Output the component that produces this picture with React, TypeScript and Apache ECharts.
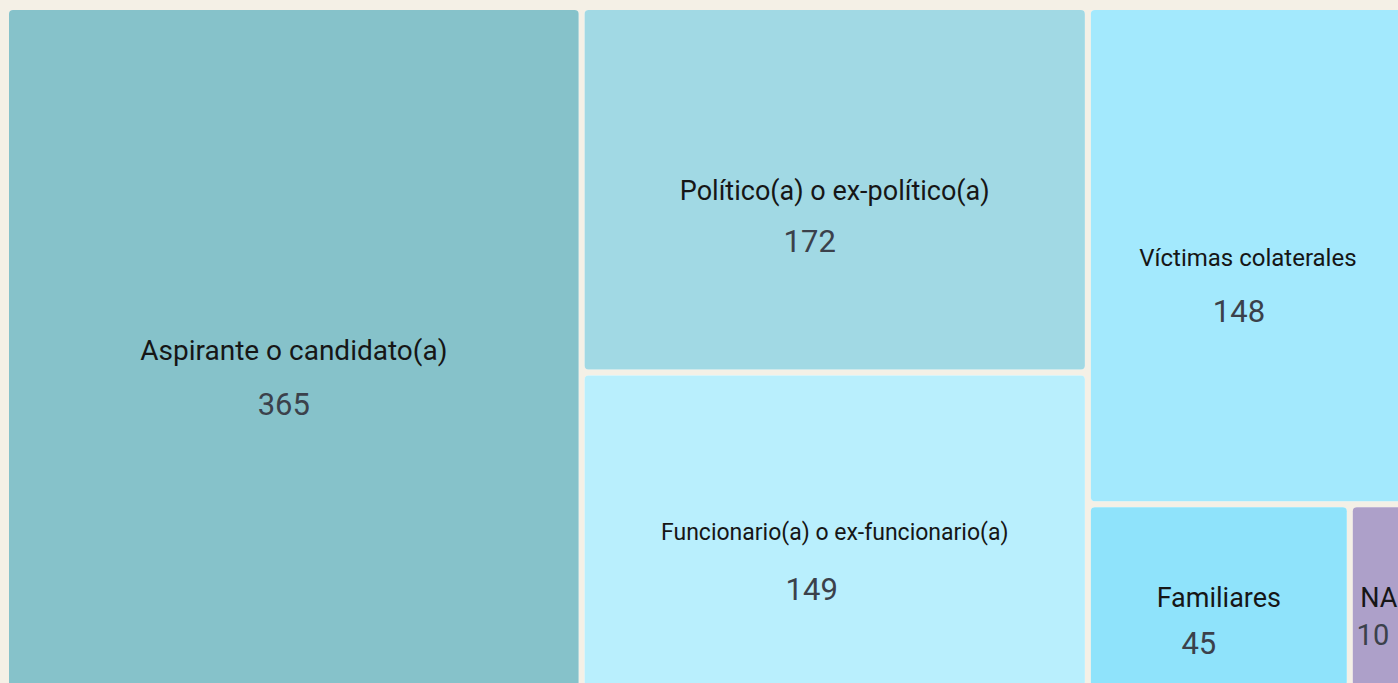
import React, { useEffect, useRef } from "react";
import * as echarts from "echarts";

const categories = [
  "Aspirante o candidato(a)",
  "Político(a) o ex-político(a)",
  "Funcionario(a) o ex-funcionario(a)",
  "Víctimas colaterales",
  "Familiares",
  "NA",
];
const values = [365, 172, 149, 148, 45, 10];
const colors = ["#86c2ca", "#a1d9e4", "#b9effd", "#a3e9fd", "#8fe3fb", "#ada0c9"];

// label styling per tile: name font size, value font size, spacing between lines, name vertical shift, value horizontal shift
const nameSizes = [28, 27, 23, 24, 27, 27];
const valueSizes = [31, 31, 31, 31, 31, 29];
const lineGaps = [54, 51, 57, 54, 46, 37];
const nameShiftY = [2, 1, 2, 2, 1, 1];
const valueShiftX = [-10, -25, -23, -9, -20, -6];

const BG = "#f4f0e6";

function buildData(heights: number[] | null) {
  return categories.map((name, i) => {
    const d = lineGaps[i];
    const h = heights && heights[i] != null ? heights[i] : 0;
    const padTop = Math.max(0, h / 2 + nameShiftY[i] - d / 2);
    return {
      name,
      value: values[i],
      itemStyle: { color: colors[i] },
      label: {
        show: true,
        position: "inside",
        align: "center",
        verticalAlign: "middle",
        overflow: "none",
        padding: [padTop, 0, 0, 0],
        formatter: `{n|${name}}\n{v|${values[i]}}`,
        rich: {
          n: {
            fontFamily: "Roboto",
            fontSize: nameSizes[i],
            lineHeight: d,
            color: "#161616",
            align: "center",
          },
          v: {
            fontFamily: "Roboto",
            fontSize: valueSizes[i],
            lineHeight: d,
            color: "#3b414b",
            align: "center",
            padding: valueShiftX[i] < 0 ? [0, -2 * valueShiftX[i], 0, 0] : [0, 0, 0, 2 * valueShiftX[i]],
          },
        },
      },
    };
  });
}

export default function App() {
  const ref = useRef<HTMLDivElement>(null);
  useEffect(() => {
    if (!ref.current) return;
    const chart = echarts.init(ref.current, undefined, { renderer: "svg" });
    const baseSeries = {
      type: "treemap",
      left: 9,
      top: 10,
      width: 1396,
      height: 676,
      roam: false,
      nodeClick: false,
      breadcrumb: { show: false },
      silent: true,
      squareRatio: 0.5 * (1 + Math.sqrt(5)),
      levels: [
        { itemStyle: { gapWidth: 6, borderWidth: 0, borderColor: BG } },
        { itemStyle: { borderWidth: 0, borderRadius: 4 } },
      ],
      label: { show: true },
    };
    chart.setOption({
      animation: false,
      backgroundColor: BG,
      series: [{ ...baseSeries, data: buildData(null) }],
    });
    // read tile heights from the library's own treemap layout, then center the labels
    let heights: number[] | null = null;
    try {
      const model: any = (chart as any).getModel();
      const seriesModel = model.getSeriesByIndex(0);
      const tree = seriesModel.getData().tree;
      const kids = tree.root.children || [];
      heights = categories.map((name) => {
        const node = kids.find((k: any) => k.name === name);
        const lay = node ? node.getLayout() : null;
        return lay ? lay.height : 0;
      });
    } catch (e) {
      heights = null;
    }
    if (heights) {
      chart.setOption({
        series: [{ ...baseSeries, data: buildData(heights) }],
      });
    }
    return () => chart.dispose();
  }, []);
  return (
    <div
      ref={ref}
      style={{ position: "fixed", left: 0, top: 0, width: 1398, height: 683, background: BG }}
    />
  );
}
